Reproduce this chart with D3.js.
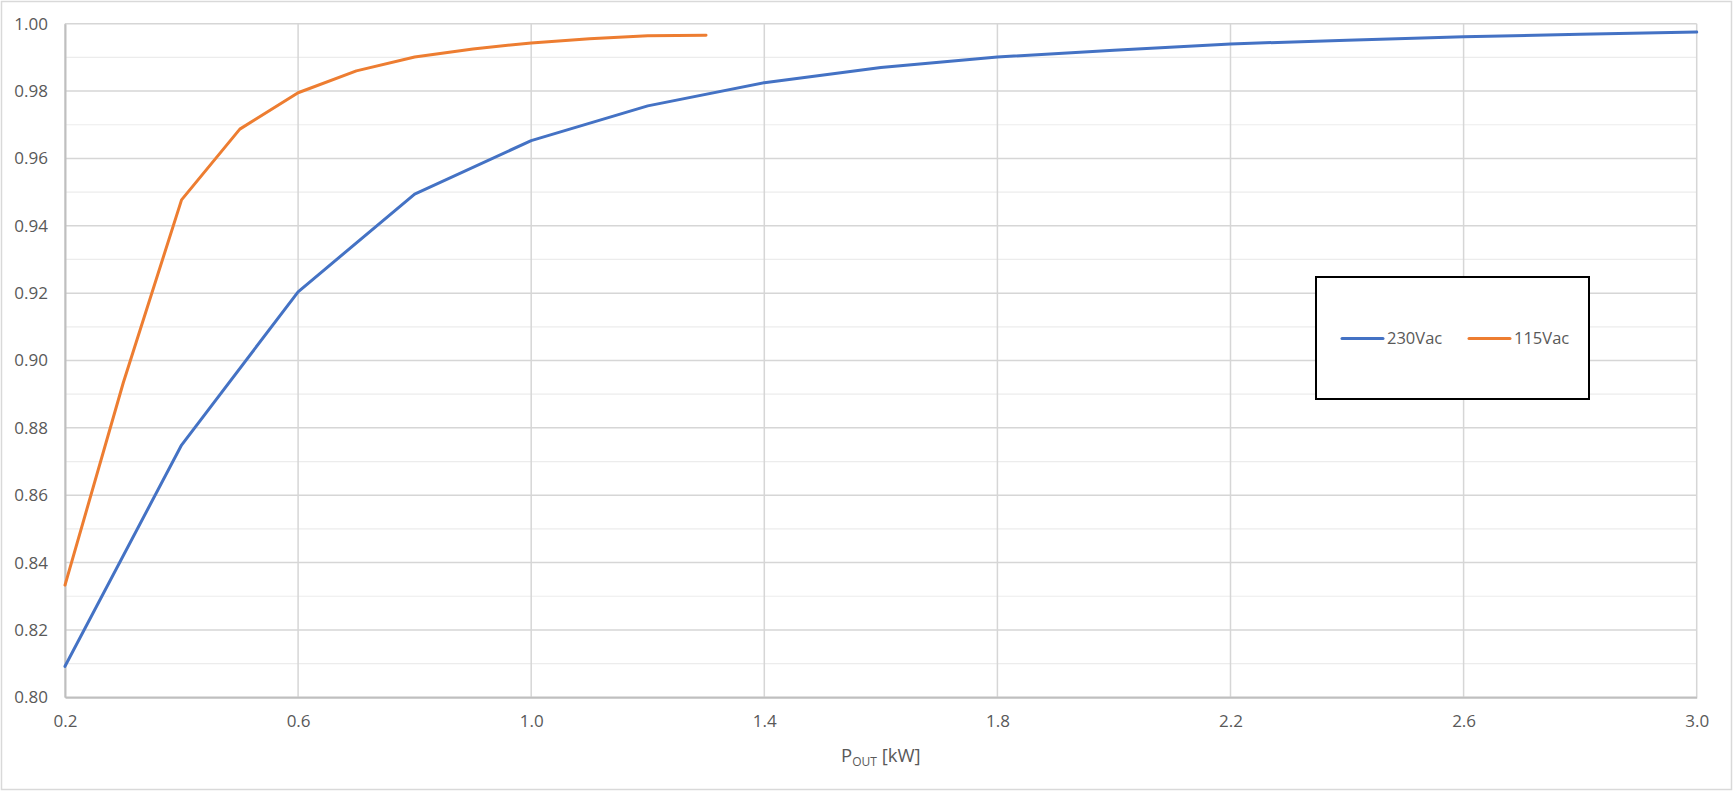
<!DOCTYPE html>
<html><head><meta charset="utf-8">
<script src="https://cdn.jsdelivr.net/npm/d3@7"></script>
<style>
body{margin:0;background:#fff;}
svg{display:block;font-family:"Open Sans",sans-serif;}
</style>
</head><body>
<svg id="c" width="1733" height="791"></svg>
<script>
// ---- data ----
const pout230 = [0.2, 0.4, 0.6, 0.8, 1.0, 1.2, 1.4, 1.6, 1.8, 2.0, 2.2, 2.4, 2.6, 2.8, 3.0];
const eff230  = [0.8092, 0.8749, 0.9204, 0.9494, 0.9653, 0.9756, 0.9825, 0.9870, 0.9901, 0.9921, 0.9940, 0.9951, 0.9961, 0.9969, 0.9975];
const pout115 = [0.2, 0.3, 0.4, 0.5, 0.6, 0.7, 0.8, 0.9, 1.0, 1.1, 1.2, 1.3];
const eff115  = [0.8333, 0.8934, 0.9477, 0.9687, 0.9795, 0.9860, 0.9901, 0.9925, 0.9943, 0.9955, 0.9964, 0.9966];
const seriesNames  = ["230Vac", "115Vac"];
const seriesColors = ["#4472C4", "#ED7D31"];
const xTicks = [0.2, 0.6, 1.0, 1.4, 1.8, 2.2, 2.6, 3.0];
const yTicks = [0.80, 0.82, 0.84, 0.86, 0.88, 0.90, 0.92, 0.94, 0.96, 0.98, 1.00];
const yMinorTicks = [0.81, 0.83, 0.85, 0.87, 0.89, 0.91, 0.93, 0.95, 0.97, 0.99];

const svg = d3.select("#c");
const W = 1733, H = 791;
const L = 65, R = 1696.7, T = 23.7, B = 697.3;

const x = d3.scaleLinear().domain([0.2, 3.0]).range([L, R]);
const y = d3.scaleLinear().domain([0.80, 1.00]).range([B, T]);

// outer chart border
svg.append("rect").attr("x", 1.5).attr("y", 1.5).attr("width", W - 3).attr("height", H - 3)
  .attr("fill", "#fff").attr("stroke", "#d9d9d9").attr("stroke-width", 1.5);

// minor horizontal gridlines
svg.append("g").selectAll("line").data(yMinorTicks).join("line")
  .attr("x1", L).attr("x2", R).attr("y1", d => y(d)).attr("y2", d => y(d))
  .attr("stroke", "#ececec").attr("stroke-width", 1.2);

// major horizontal gridlines
svg.append("g").selectAll("line").data(yTicks).join("line")
  .attr("x1", L).attr("x2", R).attr("y1", d => y(d)).attr("y2", d => y(d))
  .attr("stroke", "#d6d6d6").attr("stroke-width", 1.5);

// vertical gridlines
svg.append("g").selectAll("line").data(xTicks).join("line")
  .attr("x1", d => x(d)).attr("x2", d => x(d)).attr("y1", T).attr("y2", B)
  .attr("stroke", "#d6d6d6").attr("stroke-width", 1.5);

// axes
const xAxis = d3.axisBottom(x).tickValues(xTicks).tickFormat(d3.format(".1f")).tickSize(0).tickPadding(18);
const yAxis = d3.axisLeft(y).tickValues(yTicks).tickFormat(d3.format(".2f")).tickSize(0).tickPadding(17);

const gx = svg.append("g").attr("transform", `translate(0,${B})`).call(xAxis);
const gy = svg.append("g").attr("transform", `translate(${L},0)`).call(yAxis);
[gx, gy].forEach(g => {
  g.select(".domain").attr("stroke", "#bfbfbf").attr("stroke-width", 2);
  g.selectAll("text").attr("fill", "#595959").attr("font-size", 17).attr("font-family", "'Open Sans',sans-serif");
});

// series lines
const line = d3.line().x(d => x(d[0])).y(d => y(d[1]));
const data230 = pout230.map((p, i) => [p, eff230[i]]);
const data115 = pout115.map((p, i) => [p, eff115[i]]);
[data230, data115].forEach((d, i) => {
  svg.append("path").datum(d).attr("d", line)
    .attr("fill", "none").attr("stroke", seriesColors[i]).attr("stroke-width", 3)
    .attr("stroke-linejoin", "round").attr("stroke-linecap", "round");
});

// x axis title
const xt = svg.append("text").attr("x", x(1.6)).attr("y", 762)
  .attr("text-anchor", "middle").attr("fill", "#595959").attr("font-size", 18.5);
xt.append("tspan").text("P");
xt.append("tspan").text("OUT").attr("font-size", 12).attr("dy", 4);
xt.append("tspan").text(" [kW]").attr("dy", -4);

// legend
const lg = svg.append("g");
lg.append("rect").attr("x", 1316).attr("y", 277).attr("width", 273).attr("height", 122)
  .attr("fill", "#fff").attr("stroke", "#000").attr("stroke-width", 2);
const lx = [1342, 1469];
seriesNames.forEach((n, i) => {
  lg.append("line").attr("x1", lx[i]).attr("x2", lx[i] + 41).attr("y1", 338.5).attr("y2", 338.5)
    .attr("stroke", seriesColors[i]).attr("stroke-width", 3).attr("stroke-linecap", "round");
  lg.append("text").attr("x", lx[i] + 45).attr("y", 338.5).attr("dy", "0.35em")
    .attr("fill", "#595959").attr("font-size", 16.5).text(n);
});
</script>
</body></html>
